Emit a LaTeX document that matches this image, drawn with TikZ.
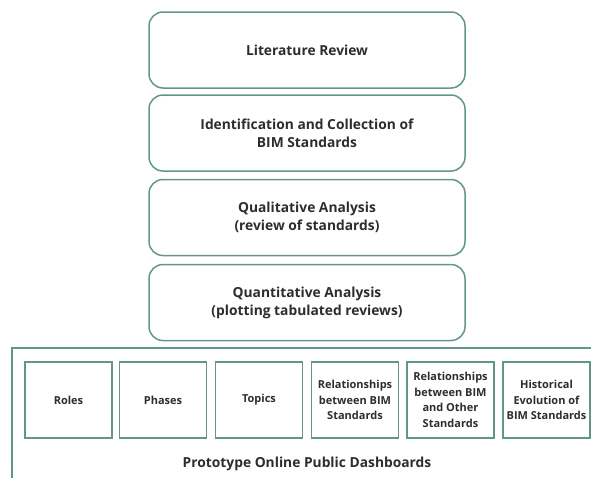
\documentclass[tikz,border=0pt]{standalone}
\usepackage{fontspec}
\setmainfont{Open Sans}
\definecolor{frame}{RGB}{98,150,140}
\definecolor{txt}{RGB}{45,45,45}
\begin{document}
\begin{tikzpicture}[x=1pt,y=-1pt,
  mainbox/.style={draw=frame,line width=1.5pt,rounded corners=14pt,minimum width=316pt,minimum height=76pt,align=center,text=txt,font=\fontsize{13.8}{18}\selectfont\bfseries,inner sep=0pt},
  subbox/.style={draw=frame,line width=1.5pt,minimum width=87pt,minimum height=76pt,align=center,text=txt,font=\fontsize{11}{15.5}\selectfont\bfseries,inner sep=0pt},
  title/.style={text=txt,font=\fontsize{13.8}{17}\selectfont\bfseries,inner sep=0pt}]
\useasboundingbox (0,0) rectangle (591,477);
\clip (0,0) rectangle (591,477);
\node[mainbox] (lit) at (307,50) {Literature Review};
\node[mainbox] (ident) at (307,133) {Identification and Collection of\\BIM Standards};
\node[mainbox] (qual) at (307,217.5) {Qualitative Analysis\\(review of standards)};
\node[mainbox] (quant) at (307,302.5) {Quantitative Analysis\\(plotting tabulated reviews)};
\coordinate (fbl) at (12,490);
\coordinate (ftl) at (12,348);
\coordinate (ftr) at (600,348);
\draw[frame,line width=1.5pt] (fbl) -- (ftl) -- (ftr);
\node[subbox] (roles) at (68.5,400) {Roles};
\node[subbox] (phases) at (163,400) {Phases};
\node[subbox] (topics) at (259,400) {Topics};
\node[subbox] (relbim) at (355,400) {Relationships\\between BIM\\Standards};
\node[subbox] (relother) at (450.5,400) {Relationships\\between BIM\\and Other\\Standards};
\node[subbox] (hist) at (546.5,400) {Historical\\Evolution of\\BIM Standards};
\node[title] (dash) at (307,464) {Prototype Online Public Dashboards};
\end{tikzpicture}
\end{document}
